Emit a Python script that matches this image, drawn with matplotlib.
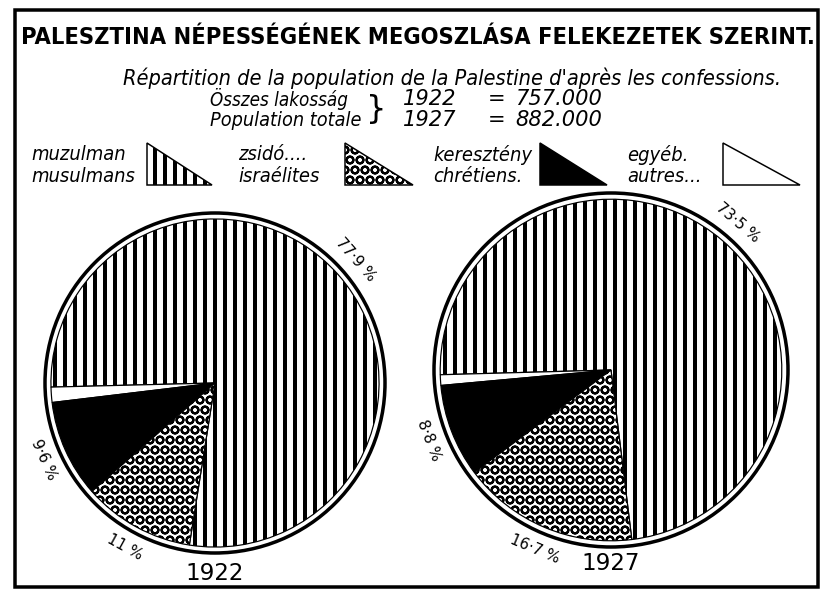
import numpy as np
import matplotlib.pyplot as plt
from matplotlib.patches import Circle, Polygon, Rectangle

# shares per confession, in the order the wedges go round (counter-clockwise)
groups = ['muzulman', 'egyéb', 'keresztény', 'zsidó']
share_1922 = [77.9, 1.5, 9.6, 11.0]
share_1927 = [73.5, 1.0, 8.8, 16.7]
pct_1922 = ['77·9 %', '', '9·6 %', '11 %']
pct_1927 = ['73·5 %', '', '8·8 %', '16·7 %']
years = ['1922', '1927']
totals = ['757.000', '882.000']

hatches = ['|', '', '', 'O']
faces = ['white', 'white', 'black', 'white']
hatch_lw = [4.8, 1.0, 1.0, 2.6]

plt.rcParams['hatch.color'] = 'black'
plt.rcParams['hatch.linewidth'] = 2.0

# low dpi so that hatch spacing matches the print (hatch unit = 1 inch)
DPI = 60
fig = plt.figure(figsize=(828 / DPI, 594 / DPI), dpi=DPI)
bg = fig.add_axes([0, 0, 1, 1])
bg.set_xlim(0, 828)
bg.set_ylim(594, 0)
bg.axis('off')

def px(v):
    # pixels -> points at this dpi
    return v * 72 / DPI

def set_hlw(p, lw):
    if hasattr(p, 'set_hatch_linewidth'):
        p.set_hatch_linewidth(lw)

bg.add_patch(Rectangle((15, 10), 803, 577, fill=False, lw=px(3.5), ec='black'))

def fit(t, width):
    r = fig.canvas.get_renderer()
    w = t.get_window_extent(r).width
    t.set_fontsize(t.get_fontsize() * width / w)

cond = dict(family='DejaVu Sans', stretch='condensed')
title = bg.text(418, 38, 'PALESZTINA NÉPESSÉGÉNEK MEGOSZLÁSA FELEKEZETEK SZERINT.',
                ha='center', va='center', fontsize=30, weight='bold', **cond)
fit(title, 790)
sub = bg.text(452, 78, "Répartition de la population de la Palestine d'après les confessions.",
              ha='center', va='center', fontsize=20, style='italic', **cond)
fit(sub, 655)

it = dict(style='italic', fontsize=px(19), va='center', **cond)
t1 = bg.text(210, 99, 'Összes lakosság', ha='left', **it)
fit(t1, 138)
t2 = bg.text(210, 120, 'Population totale', ha='left', **it)
fit(t2, 152)
bg.text(366, 110, '}', ha='left', va='center', family='DejaVu Sans', fontsize=px(32))
num = dict(style='italic', fontsize=px(21), va='center', family='DejaVu Sans')
for i, (yr, tot) in enumerate(zip(years, totals)):
    y = 99 + 21 * i
    bg.text(403, y, yr, ha='left', **num)
    bg.text(497, y, '=', ha='center', **num)
    bg.text(515, y, tot, ha='left', **num)

# legend
leg_txt = [('muzulman', 'musulmans'), ('zsidó....', 'israélites'),
           ('keresztény', 'chrétiens.'), ('egyéb.', 'autres...')]
leg_x = [31, 238, 433, 627]
tri_x = [(147, 212), (345, 413), (540, 607), (723, 800)]
leg_style = [0, 3, 2, 1]
lt = dict(style='italic', fontsize=px(20), va='center', ha='left', **cond)
for (a, b), x0, (t0, t1_), k in zip(leg_txt, leg_x, tri_x, leg_style):
    bg.text(x0, 155, a, **lt)
    bg.text(x0, 176, b, **lt)
    tri = Polygon([(t0, 143), (t0, 185), (t1_, 185)], closed=True,
                  fc=faces[k], ec='black', lw=px(1.5), hatch=hatches[k])
    set_hlw(tri, hatch_lw[k])
    bg.add_patch(tri)

def draw_pie(cx, cy, r, shares, texts, start, year, year_y):
    ax = fig.add_axes([(cx - r) / 828, (594 - cy - r) / 594, 2 * r / 828, 2 * r / 594])
    wedges, _ = ax.pie(shares, colors=faces, hatch=hatches, startangle=start,
                       counterclock=True, radius=0.965,
                       wedgeprops=dict(edgecolor='black', linewidth=px(1.2)))
    for w, lw in zip(wedges, hatch_lw):
        set_hlw(w, lw)
    ax.add_patch(Circle((0, 0), 1.0, fill=False, ec='black', lw=px(3.5), clip_on=False))
    for w, t in zip(wedges, texts):
        if not t:
            continue
        mid = (w.theta1 + w.theta2) / 2 % 360
        a = np.deg2rad(mid)
        rot = mid - 90 if mid < 180 else mid - 270
        ax.text(1.1 * np.cos(a), 1.1 * np.sin(a), t, rotation=rot, ha='center', va='center',
                rotation_mode='anchor', fontsize=px(15), family='DejaVu Sans', clip_on=False)
    ax.set_xlim(-1, 1)
    ax.set_ylim(-1, 1)
    ax.axis('off')
    bg.text(cx, year_y, year, ha='center', va='center', fontsize=px(23), family='DejaVu Sans')

draw_pie(215, 383, 170, share_1922, pct_1922, -99, years[0], 574)
draw_pie(611, 370, 177, share_1927, pct_1927, -83, years[1], 563)

fig.savefig('out.png', dpi=DPI)
